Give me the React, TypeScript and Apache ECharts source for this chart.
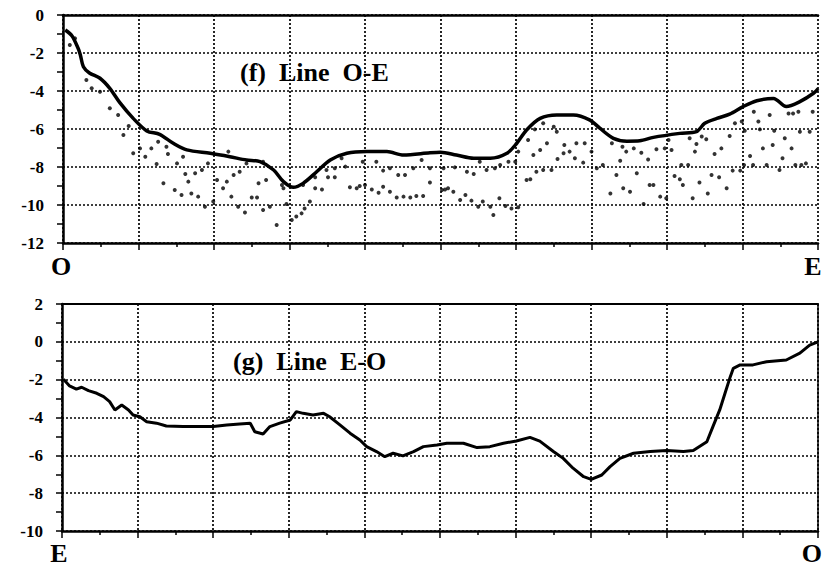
import React, { useEffect, useRef } from "react";
import * as echarts from "echarts";

// Top panel (f) Line O-E : smooth profile
const topLine: [number, number][] = [
  [0.03, -0.79], [0.12, -1.1], [0.2, -1.75], [0.23, -2.1], [0.27, -2.72], [0.35, -3.05], [0.49, -3.33],
  [0.62, -3.86], [0.75, -4.6], [0.93, -5.44], [1.11, -6.1], [1.28, -6.28], [1.46, -6.75], [1.64, -7.1],
  [1.95, -7.28], [2.21, -7.46], [2.43, -7.63], [2.61, -7.72], [2.79, -8.16], [2.92, -8.77], [3.05, -9.07],
  [3.18, -8.86], [3.36, -8.25], [3.54, -7.63], [3.76, -7.28], [4.02, -7.19], [4.29, -7.19], [4.51, -7.37],
  [4.86, -7.25], [5.0, -7.22], [5.21, -7.37], [5.44, -7.54], [5.66, -7.54], [5.88, -7.28], [6.01, -6.75],
  [6.14, -6.05], [6.32, -5.44], [6.54, -5.26], [6.76, -5.26], [6.98, -5.53], [7.11, -5.96], [7.29, -6.49],
  [7.47, -6.64], [7.64, -6.62], [7.82, -6.44], [8.17, -6.23], [8.39, -6.14], [8.5, -5.7], [8.66, -5.44],
  [8.83, -5.22], [9.01, -4.82], [9.19, -4.51], [9.41, -4.39], [9.58, -4.82], [9.76, -4.56], [9.94, -4.12],
  [10.0, -3.88]
];

// Top panel scattered measurements
const topDots: [number, number][] = [
  [0.09, -1.58], [0.16, -1.23], [0.31, -3.42], [0.38, -3.86], [0.49, -4.04], [0.62, -4.91], [0.73, -5.26],
  [0.8, -6.32], [0.87, -5.84], [0.93, -7.28], [1.02, -7.02], [1.09, -7.46], [1.17, -7.02], [1.24, -7.84],
  [1.26, -6.67], [1.37, -6.93], [1.39, -7.32], [1.33, -8.86], [1.48, -9.21], [1.57, -9.47], [1.7, -9.39],
  [1.79, -9.56], [1.88, -10.09], [1.99, -9.82], [1.51, -7.81], [1.62, -8.37], [1.66, -8.77], [1.75, -8.33],
  [1.84, -8.16], [1.92, -7.81], [1.59, -7.46], [2.04, -8.68], [2.12, -9.12], [2.17, -8.77], [2.26, -8.42],
  [2.34, -8.25], [2.19, -7.19], [2.23, -9.56], [2.32, -10.09], [2.41, -10.4], [2.5, -9.6], [2.57, -9.6],
  [2.59, -8.86], [2.43, -7.81], [2.69, -8.68], [2.65, -10.26], [2.74, -10.09], [2.83, -11.05], [2.92, -9.12],
  [2.96, -9.95], [3.03, -10.79], [3.09, -10.61], [3.16, -10.44], [3.2, -10.18], [3.27, -9.82], [3.34, -9.12],
  [3.43, -9.18], [3.51, -8.54], [3.6, -8.54], [3.8, -9.07], [3.89, -9.12], [3.93, -9.0], [4.0, -8.95],
  [4.09, -9.18], [4.18, -9.35], [4.24, -9.04], [4.33, -9.3], [4.42, -9.6], [4.51, -9.56], [4.6, -9.6],
  [4.68, -9.53], [4.77, -9.53], [4.86, -8.82], [5.02, -9.21], [5.06, -9.18], [3.49, -8.16], [3.6, -8.07],
  [3.69, -7.54], [3.74, -7.98], [3.97, -7.72], [4.15, -7.72], [4.24, -8.19], [4.33, -8.07], [4.44, -8.42],
  [4.53, -8.42], [4.64, -8.07], [4.75, -7.63], [4.86, -8.07], [5.04, -8.07], [2.65, -7.72], [2.9, -8.95],
  [3.18, -8.95], [3.34, -8.54], [5.1, -9.12], [5.17, -9.3], [5.26, -9.74], [5.33, -9.47], [5.41, -9.77],
  [5.5, -10.09], [5.56, -9.82], [5.66, -10.09], [5.7, -10.53], [5.78, -9.65], [5.86, -10.05], [5.94, -10.18],
  [6.03, -10.12], [6.14, -8.68], [6.19, -8.65], [6.27, -8.25], [6.36, -8.16], [6.47, -8.16], [5.19, -8.02],
  [5.35, -8.25], [5.44, -8.37], [5.52, -7.72], [5.61, -8.16], [5.72, -8.07], [5.79, -7.9], [5.9, -7.72],
  [5.99, -7.72], [6.03, -7.19], [6.16, -6.58], [6.23, -7.37], [6.32, -7.1], [6.41, -6.75], [6.5, -5.88],
  [6.54, -6.14], [6.55, -7.58], [6.63, -7.28], [6.64, -6.84], [6.71, -7.19], [6.78, -7.54], [6.8, -6.75],
  [6.89, -7.77], [6.91, -6.75], [7.0, -7.19], [7.07, -8.07], [7.15, -7.9], [7.27, -6.75], [7.33, -8.42],
  [7.25, -9.39], [7.38, -7.67], [7.41, -6.93], [7.42, -9.12], [7.46, -7.19], [7.51, -9.3], [7.56, -7.02],
  [6.25, -6.02], [6.36, -5.7], [7.66, -7.25], [7.75, -7.6], [7.86, -7.07], [7.97, -7.02], [8.06, -7.1],
  [8.02, -6.58], [7.6, -8.33], [7.69, -9.95], [7.77, -8.95], [7.82, -8.95], [7.91, -9.56], [7.99, -9.65],
  [8.1, -8.47], [8.17, -8.65], [8.19, -7.9], [8.28, -7.9], [8.21, -8.95], [8.3, -6.49], [8.37, -7.19],
  [8.39, -6.79], [8.34, -9.65], [8.43, -8.82], [8.46, -6.4], [8.52, -6.54], [8.54, -9.39], [8.59, -8.42],
  [8.63, -7.32], [8.69, -8.54], [8.72, -7.02], [8.79, -9.12], [8.83, -6.37], [8.87, -8.19], [8.9, -5.7],
  [8.99, -5.61], [8.97, -8.19], [9.03, -6.09], [9.02, -7.9], [9.1, -7.42], [9.15, -5.09], [9.14, -7.9],
  [9.21, -5.61], [9.23, -6.02], [9.27, -7.02], [9.32, -7.9], [9.36, -5.26], [9.4, -6.84], [9.42, -6.09],
  [9.49, -8.16], [9.53, -7.54], [9.56, -6.49], [9.61, -5.18], [9.65, -7.02], [9.67, -5.18], [9.7, -7.9],
  [9.74, -5.09], [9.76, -6.14], [9.78, -7.9], [9.84, -7.81], [9.89, -6.14], [9.93, -5.09]
];

// Bottom panel (g) Line E-O
const bottomLine: [number, number][] = [
  [0.02, -1.98], [0.1, -2.33], [0.19, -2.5], [0.26, -2.4], [0.35, -2.58], [0.46, -2.72], [0.55, -2.9],
  [0.63, -3.16], [0.7, -3.6], [0.79, -3.34], [0.88, -3.6], [0.94, -3.87], [1.03, -3.96], [1.12, -4.22],
  [1.25, -4.3], [1.38, -4.45], [1.6, -4.48], [1.83, -4.48], [2.0, -4.48], [2.18, -4.4], [2.35, -4.34],
  [2.49, -4.3], [2.55, -4.75], [2.66, -4.87], [2.75, -4.48], [2.88, -4.3], [3.02, -4.13], [3.1, -3.69],
  [3.19, -3.78], [3.32, -3.87], [3.46, -3.78], [3.54, -3.96], [3.68, -4.4], [3.81, -4.83], [3.94, -5.19],
  [4.03, -5.54], [4.16, -5.8], [4.27, -6.07], [4.38, -5.89], [4.51, -6.03], [4.65, -5.8], [4.78, -5.54],
  [4.96, -5.45], [5.09, -5.36], [5.31, -5.36], [5.49, -5.59], [5.66, -5.54], [5.84, -5.36], [6.01, -5.24],
  [6.19, -5.05], [6.32, -5.25], [6.5, -5.8], [6.63, -6.16], [6.76, -6.68], [6.9, -7.13], [7.0, -7.27],
  [7.14, -7.04], [7.25, -6.6], [7.38, -6.16], [7.56, -5.89], [7.78, -5.8], [8.0, -5.75], [8.22, -5.8],
  [8.35, -5.75], [8.53, -5.28], [8.61, -4.48], [8.7, -3.6], [8.77, -2.72], [8.84, -1.84], [8.88, -1.4],
  [8.97, -1.22], [9.14, -1.22], [9.32, -1.05], [9.58, -0.96], [9.76, -0.6], [9.89, -0.17], [10.0, 0.0]
];

const FONT = "'Liberation Serif', 'Times New Roman', serif";
const BLACK = "#000";
const DOTTED = { color: BLACK, width: 1.7, type: [2, 2] };

function xAxes(grid: number) {
  return [
    {
      gridIndex: grid, type: "value", min: 0, max: 10, interval: 1, splitNumber: 10, position: "bottom",
      axisLine: { show: true, onZero: false, lineStyle: { color: BLACK, width: 2.5 } },
      axisTick: { show: true, length: 7, lineStyle: { color: BLACK, width: 1.5 } },
      minorTick: { show: true, splitNumber: 2, length: 4, lineStyle: { color: BLACK, width: 1.5 } },
      axisLabel: { show: true, formatter: () => "", color: "transparent" },
      splitLine: { show: true, lineStyle: DOTTED }
    },
    {
      gridIndex: grid, type: "value", min: 0, max: 10, position: "top",
      axisLine: { show: true, onZero: false, lineStyle: { color: BLACK, width: grid === 0 ? 2.5 : 2 } },
      axisTick: { show: false }, axisLabel: { show: false }, splitLine: { show: false }
    }
  ];
}

function yAxis(grid: number, min: number, max: number) {
  return {
    gridIndex: grid, type: "value", min, max, interval: 2, position: "left",
    axisLine: { show: true, onZero: false, lineStyle: { color: BLACK, width: 2.5 } },
    axisTick: { show: true, length: 6, lineStyle: { color: BLACK, width: 1.5 } },
    minorTick: { show: true, splitNumber: 2, length: 6, lineStyle: { color: BLACK, width: 1.5 } },
    axisLabel: { show: true, margin: 19, color: BLACK, fontFamily: FONT, fontWeight: "bold", fontSize: 17 },
    splitLine: { show: true, lineStyle: DOTTED }
  };
}

export default function App() {
  const ref = useRef<HTMLDivElement>(null);
  useEffect(() => {
    if (!ref.current) return;
    const chart = echarts.init(ref.current, undefined, { renderer: "svg" });
    const label = (text: string, x: number, y: number, size: number, align = "center") => ({
      type: "text", x, y, silent: true,
      style: { text, fill: BLACK, fontFamily: FONT, fontWeight: "bold", fontSize: size, align, verticalAlign: "middle" }
    });
    chart.setOption({
      animation: false,
      backgroundColor: "#fff",
      grid: [
        { left: 63, right: 5, top: 15, height: 228 },
        { left: 62, right: 5, top: 304, height: 227 }
      ],
      xAxis: [...xAxes(0), ...xAxes(1)],
      yAxis: [
        yAxis(0, -12, 0),
        yAxis(1, -10, 2),
        {
          gridIndex: 1, type: "value", min: -10, max: 2, position: "right",
          axisLine: { show: true, onZero: false, lineStyle: { color: BLACK, width: 1.5 } },
          axisTick: { show: false }, axisLabel: { show: false }, splitLine: { show: false }
        }
      ],
      series: [
        {
          type: "scatter", xAxisIndex: 0, yAxisIndex: 0, data: topDots,
          symbol: "circle", symbolSize: 4, itemStyle: { color: BLACK }, z: 3
        },
        {
          type: "line", xAxisIndex: 0, yAxisIndex: 0, data: topLine, showSymbol: false, smooth: 0.3,
          lineStyle: { color: BLACK, width: 3.5 }, z: 4
        },
        {
          type: "line", xAxisIndex: 2, yAxisIndex: 1, data: bottomLine, showSymbol: false,
          lineStyle: { color: BLACK, width: 3 }, z: 4
        }
      ],
      graphic: [
        label("(f)  Line  O-E", 240, 72, 26, "left"),
        label("(g)  Line  E-O", 233, 361, 26, "left"),
        label("O", 61, 266, 26),
        label("E", 813, 266, 26),
        label("E", 59, 553, 26),
        label("O", 822, 553, 26, "right")
      ]
    });
    return () => chart.dispose();
  }, []);
  return (
    <div
      ref={ref}
      style={{ position: "fixed", left: 0, top: 0, width: 823, height: 570, background: "#fff" }}
    />
  );
}
